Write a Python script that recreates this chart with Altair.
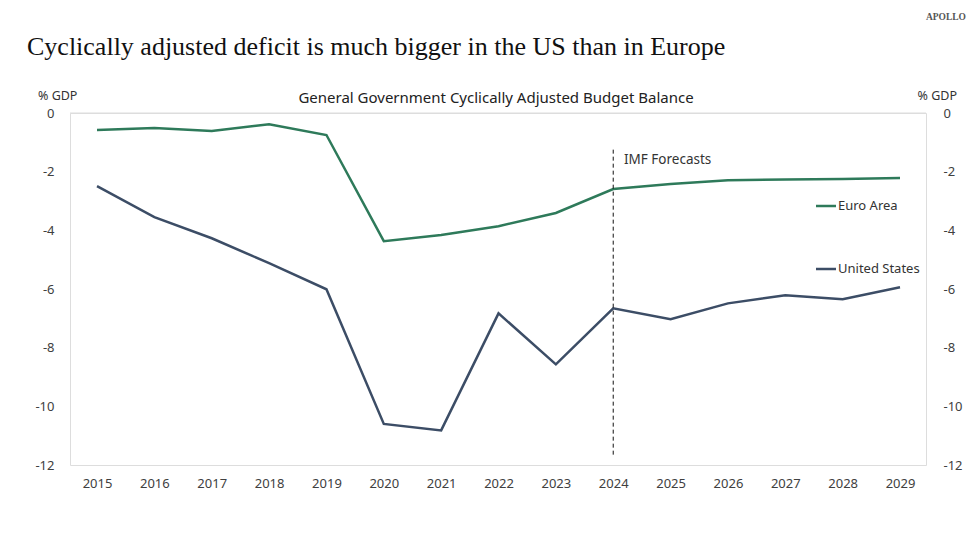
import altair as alt
import pandas as pd

years = list(range(2015, 2030))
euro_area = [-0.58, -0.51, -0.61, -0.38, -0.75, -4.37, -4.16, -3.86, -3.41, -2.59, -2.42, -2.29, -2.27, -2.25, -2.22]
united_states = [-2.49, -3.55, -4.27, -5.12, -6.01, -10.6, -10.82, -6.83, -8.57, -6.66, -7.03, -6.49, -6.21, -6.35, -5.94]
series_names = ["Euro Area", "United States"]
series_colors = ["#2e7a5a", "#3c4d66"]
y_ticks = [0, -2, -4, -6, -8, -10, -12]

rows = []
for name, vals in zip(series_names, [euro_area, united_states]):
    for yr, v in zip(years, vals):
        rows.append({"year": yr, "value": v, "series": name})
df = pd.DataFrame(rows)

W, H = 856, 352
FONT = "Noto Sans"
xscale = alt.Scale(domain=[2014.529, 2029.453], nice=False, zero=False)
yscale = alt.Scale(domain=[-12, 0], nice=False, zero=False)
xaxis = alt.Axis(values=years, format="d", title=None, domain=False, ticks=False,
                 grid=False, labelFont=FONT, labelFontSize=13, labelColor="#404040",
                 labelPadding=12)

lines = alt.Chart(df).mark_line(strokeWidth=2.5).encode(
    x=alt.X("year:Q", scale=xscale, axis=xaxis),
    y=alt.Y("value:Q", scale=yscale,
            axis=alt.Axis(values=y_ticks, labelExpr="datum.value + ''", title=None, domain=False,
                          ticks=False, grid=False, labelFont=FONT, labelFontSize=13,
                          labelColor="#404040", labelPadding=16, orient="left")),
    color=alt.Color("series:N", scale=alt.Scale(domain=series_names, range=series_colors), legend=None),
)

grid = alt.Chart(pd.DataFrame({"v": [0]})).mark_rule(color="#dddddd", strokeWidth=1).encode(
    y=alt.Y("v:Q", scale=yscale,
            axis=alt.Axis(values=y_ticks, labelExpr="datum.value + ''", title=None, domain=False,
                          ticks=False, grid=False, labelFont=FONT, labelFontSize=13,
                          labelColor="#404040", labelPadding=17, labelAlign="left", orient="right"))
)

forecast = alt.Chart(pd.DataFrame({"year": [2024], "y1": [-1.25], "y2": [-11.65]})).mark_rule(
    color="#111111", strokeWidth=1, strokeDash=[4, 3]
).encode(x=alt.X("year:Q", scale=xscale, axis=xaxis),
         y=alt.Y("y1:Q", scale=yscale, axis=None), y2="y2:Q")

imf = alt.Chart(pd.DataFrame({"t": ["IMF Forecasts"]})).mark_text(
    align="left", baseline="middle", font=FONT, fontSize=13.5, color="#333333"
).encode(x=alt.value(554), y=alt.value(47), text="t:N")

leg_df = pd.DataFrame({"series": series_names, "ypx": [93, 156]})
leg_lines = alt.Chart(leg_df).mark_rule(strokeWidth=2.5).encode(
    x=alt.value(746), x2=alt.value(766), y=alt.Y("ypx:Q", scale=None, axis=None),
    color=alt.Color("series:N", scale=alt.Scale(domain=series_names, range=series_colors), legend=None),
)
leg_text = alt.Chart(leg_df).mark_text(
    align="left", baseline="middle", font=FONT, fontSize=13, color="#333333"
).encode(x=alt.value(768), y=alt.Y("ypx:Q", scale=None, axis=None), text="series:N")

title = alt.Chart(pd.DataFrame({"t": ["Cyclically adjusted deficit is much bigger in the US than in Europe"]})).mark_text(
    align="left", baseline="alphabetic", font="Liberation Serif", fontSize=26, color="#111111"
).encode(x=alt.value(-43), y=alt.value(-58), text="t:N")

subtitle = alt.Chart(pd.DataFrame({"t": ["General Government Cyclically Adjusted Budget Balance"]})).mark_text(
    align="center", baseline="middle", font=FONT, fontSize=15, color="#222222"
).encode(x=alt.value(426), y=alt.value(-15), text="t:N")

gdp_l = alt.Chart(pd.DataFrame({"t": ["% GDP"]})).mark_text(
    align="left", baseline="middle", font=FONT, fontSize=12.5, color="#333333"
).encode(x=alt.value(-32), y=alt.value(-17), text="t:N")
gdp_r = alt.Chart(pd.DataFrame({"t": ["% GDP"]})).mark_text(
    align="right", baseline="middle", font=FONT, fontSize=12.5, color="#333333"
).encode(x=alt.value(887), y=alt.value(-17), text="t:N")

apollo = alt.Chart(pd.DataFrame({"t": ["APOLLO"]})).mark_text(
    align="right", baseline="middle", font="Liberation Serif", fontSize=9.5, fontWeight="bold", color="#555555"
).encode(x=alt.value(896), y=alt.value(-96), text="t:N")

chart = alt.layer(
    lines, grid, forecast, imf, leg_lines, leg_text, title, subtitle, gdp_l, gdp_r, apollo
).resolve_axis(y="independent").properties(
    width=W, height=H,
    autosize=alt.AutoSizeParams(type="none"),
    padding={"left": 62, "top": 105, "right": 42, "bottom": 60},
).configure_view(stroke=None).configure(background="white")

chart.save("out.html", embed_options={"renderer": "svg", "actions": False})
